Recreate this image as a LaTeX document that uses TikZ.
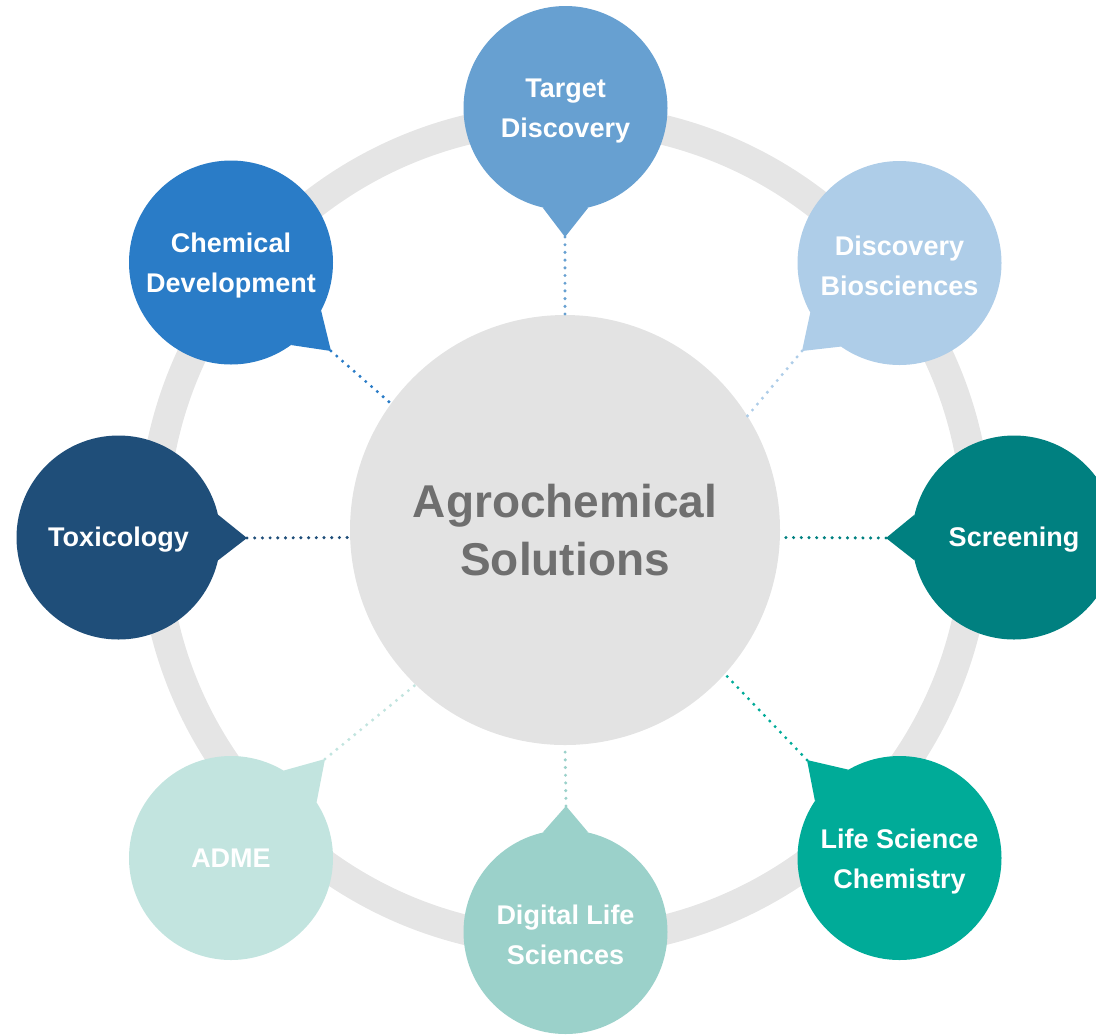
\documentclass[tikz,border=0pt]{standalone}
\usepackage{fontspec}
\setmainfont{Liberation Sans}
\definecolor{c-td}{HTML}{67A0D1}
\definecolor{c-db}{HTML}{AECDE8}
\definecolor{c-cd}{HTML}{2A7CC7}
\definecolor{c-tox}{HTML}{1F4E79}
\definecolor{c-sc}{HTML}{008080}
\definecolor{c-lsc}{HTML}{00AB98}
\definecolor{c-dls}{HTML}{9BD1CA}
\definecolor{c-adme}{HTML}{C2E4DF}
\definecolor{c-ctr}{HTML}{E3E3E3}
\definecolor{c-ctrtext}{HTML}{6F6F6F}
\definecolor{c-ring}{HTML}{E5E5E5}
\begin{document}
\begin{tikzpicture}[x=0.5pt,y=-0.5pt,
  sat/.style={circle, minimum size=102pt, inner sep=0pt, outer sep=0pt},
  sattext/.style={text=white, align=center, inner sep=0pt,
    font=\fontsize{13.5}{20}\selectfont\bfseries},
  hub/.style={circle, minimum size=215pt, inner sep=0pt, outer sep=0pt,
    fill=c-ctr, text=c-ctrtext, align=center,
    font=\fontsize{23}{29}\selectfont\bfseries},
  dotline/.style={line width=1.7pt, line cap=round, dash pattern=on 0pt off 3.85pt},
  ringline/.style={draw=c-ring, line width=15pt}]
\useasboundingbox (0,0) rectangle (1096,1035);
\clip (0,0) rectangle (1096,1035);
\coordinate (mid) at (565,530);
\draw[ringline] (mid) circle[radius=412];
% tips
\coordinate (tip-td) at (565,237);
\coordinate (tip-db) at (802,351);
\coordinate (tip-sc) at (886,538);
\coordinate (tip-lsc) at (807,760);
\coordinate (tip-dls) at (566,806);
\coordinate (tip-adme) at (325,759);
\coordinate (tip-tox) at (247,538);
\coordinate (tip-cd) at (331,351);
% hub
\node[hub] (ctr) at (mid) {Agrochemical\\Solutions};
% connectors
\draw[dotline, c-td] (tip-td) -- (ctr.90);
\draw[dotline, c-db] (tip-db) -- (ctr.32.7);
\draw[dotline, c-sc] (tip-sc) -- (ctr.-2.1);
\draw[dotline, c-lsc] (tip-lsc) -- (ctr.-42.2);
\draw[dotline, c-dls] (tip-dls) -- (ctr.-90);
\draw[dotline, c-adme] (tip-adme) -- (ctr.226.3);
\draw[dotline, c-tox] (tip-tox) -- (ctr.182.1);
\draw[dotline, c-cd] (tip-cd) -- (ctr.144.3);
% satellites
\node[sat, fill=c-td] (td) at (565.5,108) {};
\node[sat, fill=c-db] (db) at (899.5,263) {};
\node[sat, fill=c-sc] (sc) at (1014,537.5) {};
\node[sat, fill=c-lsc] (lsc) at (899.5,858) {};
\node[sat, fill=c-dls] (dls) at (565.5,932) {};
\node[sat, fill=c-adme] (adme) at (231,858) {};
\node[sat, fill=c-tox] (tox) at (118.5,537.5) {};
\node[sat, fill=c-cd] (cd) at (231,262.5) {};
% tails
\foreach \n/\a in {td/-90, db/222.1, sc/180, lsc/133.3, dls/90, adme/46.5, tox/0, cd/-41.5}
  \fill[c-\n] (\n.{\a+13}) -- (tip-\n) -- (\n.{\a-13}) -- cycle;
% labels
\node[sattext] (td-t) at ([yshift=-1.5pt]td.center) {Target\\Discovery};
\node[sattext] (db-t) at ([yshift=-1.5pt]db.center) {Discovery\\Biosciences};
\node[sattext] (sc-t) at ([yshift=-1pt]sc.center) {Screening};
\node[sattext] (lsc-t) at ([yshift=-1.5pt]lsc.center) {Life Science\\Chemistry};
\node[sattext] (dls-t) at ([yshift=-1.5pt]dls.center) {Digital Life\\Sciences};
\node[sattext] (adme-t) at ([yshift=0pt]adme.center) {ADME};
\node[sattext] (tox-t) at ([yshift=-1pt]tox.center) {Toxicology};
\node[sattext] (cd-t) at ([yshift=-1.5pt]cd.center) {Chemical\\Development};
\end{tikzpicture}
\end{document}
